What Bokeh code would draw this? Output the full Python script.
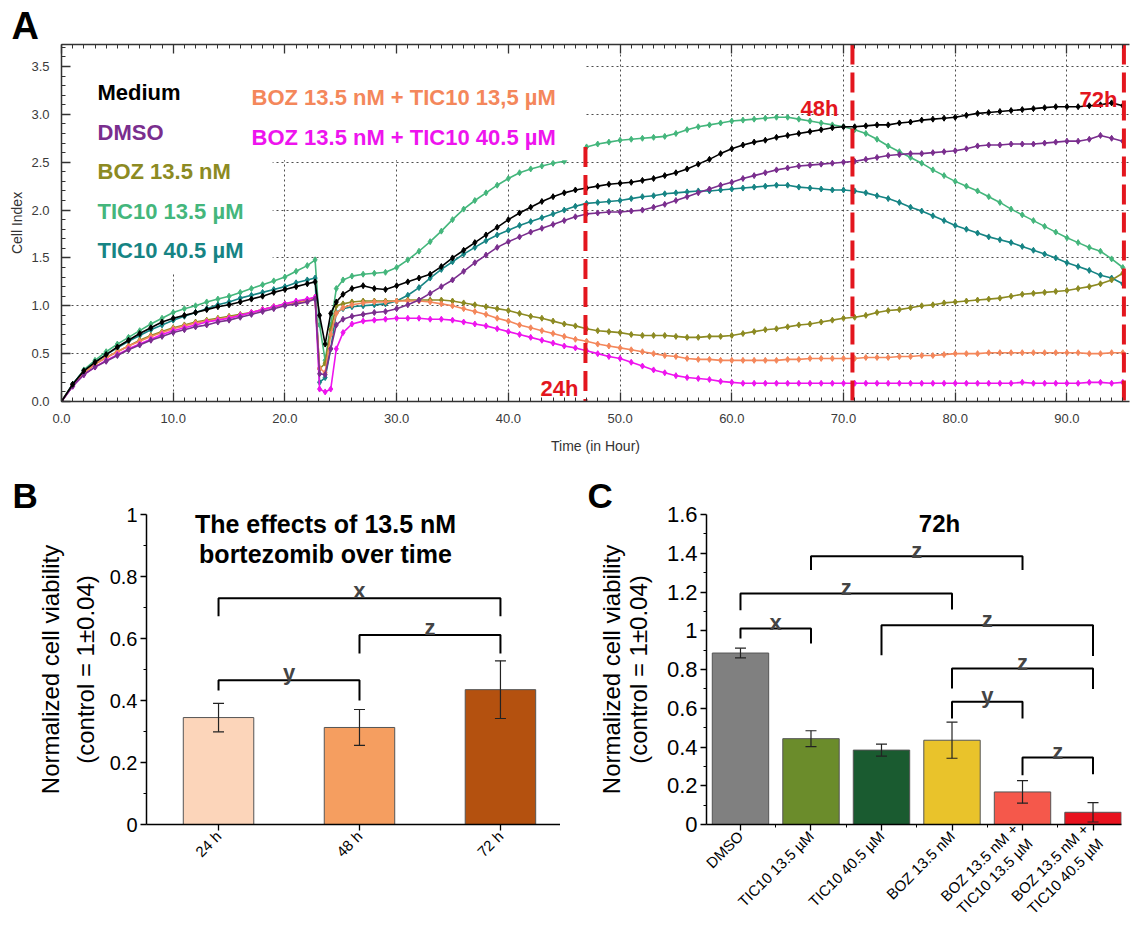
import math
from bokeh.plotting import figure
from bokeh.layouts import column, row
from bokeh.models import (Range1d, LinearAxis, SingleIntervalTicker, FixedTicker,
                          PrintfTickFormatter, Label, Whisker, TeeHead, ColumnDataSource)
from bokeh.embed import file_html
from bokeh.resources import INLINE

FONT = "Liberation Sans"
RED = "#e3161e"

# ------------------------------------------------------------------ Panel A data
hours = [0, 1, 2, 3, 4, 5, 6, 7, 8, 9, 10, 11, 12, 13, 14, 15, 16, 17, 18, 19, 20, 21, 22,
         22.7, 23.1, 23.6, 24.1, 24.6, 25.2,
         26, 27, 28, 29, 30, 31, 32, 33, 34, 35, 36, 37, 38, 39, 40, 41, 42, 43, 44, 45, 46, 47,
         48, 49, 50, 51, 52, 53, 54, 55, 56, 57, 58, 59, 60,
         61, 62, 63, 64, 65, 66, 67, 68, 69, 70,
         71, 72, 73, 74, 75, 76, 77, 78, 79, 80,
         81, 82, 83, 84, 85, 86, 87, 88, 89, 90,
         91, 92, 93, 94, 95]

ci_medium = [0, 0.18, 0.32, 0.41, 0.49, 0.57, 0.64, 0.71, 0.77, 0.83, 0.87, 0.90, 0.93, 0.96, 0.99, 1.01, 1.04, 1.07, 1.10, 1.14, 1.17, 1.20, 1.23,
             1.25, 0.90, 0.60, 0.92, 1.04, 1.12,
             1.18, 1.21, 1.18, 1.17, 1.21, 1.25, 1.29, 1.33, 1.41, 1.50, 1.58, 1.66, 1.74, 1.82, 1.90, 1.97, 2.03, 2.09, 2.14, 2.18, 2.21, 2.23,
             2.25, 2.27, 2.28, 2.29, 2.31, 2.33, 2.36, 2.39, 2.43, 2.48, 2.53, 2.59, 2.64,
             2.68, 2.71, 2.73, 2.76, 2.78, 2.80, 2.82, 2.84, 2.86, 2.87,
             2.87, 2.88, 2.89, 2.89, 2.91, 2.92, 2.94, 2.95, 2.96, 2.97,
             2.99, 3.01, 3.02, 3.03, 3.04, 3.05, 3.06, 3.07, 3.08, 3.08,
             3.08, 3.09, 3.10, 3.12, 3.09]

ci_dmso = [0, 0.16, 0.28, 0.36, 0.42, 0.48, 0.54, 0.59, 0.64, 0.68, 0.72, 0.75, 0.78, 0.80, 0.83, 0.85, 0.88, 0.91, 0.94, 0.97, 1.00, 1.02, 1.04,
           1.07, 0.29, 0.28, 0.55, 0.80, 0.86,
           0.89, 0.91, 0.93, 0.94, 0.97, 1.01, 1.06, 1.13, 1.20, 1.27, 1.36, 1.45, 1.53, 1.61, 1.67, 1.72, 1.77, 1.81, 1.85, 1.89, 1.93, 1.96,
           1.97, 1.98, 1.98, 1.99, 2.00, 2.03, 2.06, 2.10, 2.14, 2.18, 2.22, 2.26, 2.29,
           2.33, 2.36, 2.39, 2.42, 2.44, 2.46, 2.47, 2.48, 2.49, 2.50,
           2.51, 2.53, 2.55, 2.57, 2.58, 2.59, 2.59, 2.60, 2.61, 2.62,
           2.64, 2.67, 2.68, 2.68, 2.69, 2.69, 2.69, 2.70, 2.71, 2.72,
           2.72, 2.74, 2.78, 2.75, 2.72]

ci_boz = [0, 0.17, 0.30, 0.39, 0.46, 0.52, 0.58, 0.64, 0.69, 0.73, 0.77, 0.80, 0.83, 0.85, 0.87, 0.89, 0.91, 0.93, 0.96, 0.99, 1.02, 1.04, 1.06,
          1.09, 0.34, 0.40, 0.75, 1.00, 1.02,
          1.04, 1.05, 1.05, 1.05, 1.05, 1.06, 1.06, 1.06, 1.06, 1.05, 1.03, 1.01, 0.99, 0.97, 0.95, 0.92, 0.89, 0.87, 0.84, 0.81, 0.79, 0.76,
          0.74, 0.73, 0.72, 0.70, 0.69, 0.69, 0.69, 0.68, 0.67, 0.67, 0.68, 0.68, 0.69,
          0.71, 0.73, 0.75, 0.76, 0.78, 0.80, 0.81, 0.83, 0.85, 0.87,
          0.88, 0.90, 0.93, 0.95, 0.96, 0.98, 1.00, 1.01, 1.03, 1.04,
          1.05, 1.06, 1.07, 1.08, 1.10, 1.12, 1.13, 1.14, 1.15, 1.16,
          1.18, 1.20, 1.23, 1.27, 1.34]

ci_tic135 = [0, 0.18, 0.33, 0.43, 0.52, 0.60, 0.67, 0.74, 0.81, 0.87, 0.93, 0.97, 1.00, 1.04, 1.07, 1.10, 1.14, 1.18, 1.22, 1.26, 1.30, 1.36, 1.42,
             1.48, 0.80, 0.43, 0.80, 1.18, 1.27,
             1.31, 1.33, 1.34, 1.35, 1.40, 1.48, 1.57, 1.67, 1.78, 1.90, 2.01, 2.10, 2.18, 2.26, 2.33, 2.39, 2.43, 2.46, 2.49, 2.51, 2.58, 2.66,
             2.69, 2.71, 2.73, 2.74, 2.75, 2.76, 2.77, 2.80, 2.84, 2.87, 2.89, 2.91, 2.93,
             2.94, 2.95, 2.96, 2.97, 2.97, 2.95, 2.93, 2.91, 2.89, 2.87,
             2.84, 2.80, 2.74, 2.67, 2.61, 2.55, 2.49, 2.42, 2.36, 2.30,
             2.25, 2.20, 2.14, 2.08, 2.01, 1.95, 1.89, 1.83, 1.77, 1.71,
             1.66, 1.61, 1.57, 1.49, 1.40]

ci_tic405 = [0, 0.18, 0.32, 0.41, 0.49, 0.56, 0.63, 0.69, 0.75, 0.80, 0.85, 0.89, 0.93, 0.97, 1.01, 1.04, 1.08, 1.11, 1.14, 1.17, 1.20, 1.24, 1.27,
             1.29, 0.20, 0.25, 0.55, 0.93, 0.97,
             0.99, 1.00, 1.01, 1.02, 1.05, 1.11, 1.19, 1.29, 1.38, 1.46, 1.54, 1.61, 1.68, 1.74, 1.79, 1.84, 1.88, 1.92, 1.96, 2.00, 2.04, 2.07,
             2.08, 2.09, 2.10, 2.12, 2.14, 2.15, 2.17, 2.18, 2.19, 2.20, 2.20, 2.21, 2.22,
             2.23, 2.24, 2.25, 2.26, 2.26, 2.24, 2.23, 2.22, 2.21, 2.21,
             2.20, 2.18, 2.15, 2.12, 2.08, 2.03, 1.99, 1.94, 1.89, 1.84,
             1.80, 1.76, 1.72, 1.69, 1.66, 1.62, 1.58, 1.54, 1.50, 1.45,
             1.41, 1.37, 1.32, 1.29, 1.23]

ci_boz_tic135 = [0, 0.17, 0.30, 0.39, 0.46, 0.52, 0.58, 0.63, 0.68, 0.72, 0.76, 0.79, 0.82, 0.84, 0.86, 0.88, 0.90, 0.93, 0.96, 0.99, 1.01, 1.03, 1.05,
                 1.08, 0.35, 0.30, 0.70, 0.92, 0.98,
                 1.01, 1.03, 1.04, 1.04, 1.05, 1.05, 1.05, 1.04, 1.02, 1.00, 0.97, 0.94, 0.91, 0.87, 0.84, 0.80, 0.77, 0.74, 0.71, 0.68, 0.65, 0.63,
                 0.60, 0.58, 0.56, 0.54, 0.52, 0.50, 0.48, 0.47, 0.45, 0.44, 0.44, 0.43, 0.43,
                 0.43, 0.43, 0.43, 0.43, 0.44, 0.44, 0.45, 0.45, 0.45, 0.45,
                 0.45, 0.46, 0.46, 0.46, 0.47, 0.47, 0.48, 0.48, 0.49, 0.50,
                 0.50, 0.50, 0.51, 0.51, 0.51, 0.51, 0.51, 0.51, 0.51, 0.51,
                 0.51, 0.50, 0.50, 0.51, 0.51]

ci_boz_tic405 = [0, 0.16, 0.28, 0.36, 0.43, 0.49, 0.55, 0.60, 0.65, 0.70, 0.74, 0.77, 0.80, 0.83, 0.85, 0.87, 0.90, 0.93, 0.96, 0.99, 1.02, 1.05, 1.07,
                 1.09, 0.13, 0.10, 0.13, 0.55, 0.72,
                 0.81, 0.84, 0.85, 0.86, 0.87, 0.87, 0.87, 0.86, 0.86, 0.85, 0.83, 0.81, 0.79, 0.76, 0.73, 0.70, 0.67, 0.64, 0.61, 0.58, 0.56, 0.53,
                 0.50, 0.47, 0.45, 0.41, 0.37, 0.33, 0.30, 0.27, 0.25, 0.24, 0.23, 0.21, 0.20,
                 0.19, 0.19, 0.19, 0.19, 0.19, 0.19, 0.19, 0.19, 0.19, 0.19,
                 0.19, 0.19, 0.19, 0.19, 0.19, 0.19, 0.19, 0.19, 0.19, 0.19,
                 0.19, 0.19, 0.19, 0.19, 0.19, 0.20, 0.19, 0.19, 0.19, 0.19,
                 0.19, 0.20, 0.20, 0.19, 0.20]

series_names = ["Medium", "DMSO", "BOZ 13.5 nM", "TIC10 13.5 µM", "TIC10 40.5 µM",
                "BOZ 13.5 nM + TIC10 13,5 µM", "BOZ 13.5 nM + TIC10 40.5 µM"]
series_values = [ci_medium, ci_dmso, ci_boz, ci_tic135, ci_tic405, ci_boz_tic135, ci_boz_tic405]
series_colors = ["#000000", "#7a2e8e", "#8c8a22", "#44b67c", "#168484", "#f4875b", "#ee14ee"]
draw_order = [3, 4, 2, 5, 6, 1, 0]

mark_hours = [46.9, 70.8, 95.1]
mark_labels = ["24h", "48h", "72h"]
mark_tops = [2.66, 3.73, 3.73]

# ------------------------------------------------------------------ Panel B data
b_times = ["24 h", "48 h", "72 h"]
b_viability = [0.345, 0.313, 0.435]
b_error = [0.046, 0.058, 0.093]
b_colors = ["#fcd5ba", "#f59e60", "#b4510f"]
b_brackets = [("x", 0, 2, 0.730, 0.672, 0.672),
              ("z", 1, 2, 0.611, 0.552, 0.552),
              ("y", 0, 1, 0.465, 0.432, 0.400)]

# ------------------------------------------------------------------ Panel C data
c_groups = ["DMSO", "TIC10 13.5 µM", "TIC10 40.5 µM", "BOZ 13.5 nM",
            "BOZ 13.5 nM +\nTIC10 13.5 µM", "BOZ 13.5 nM +\nTIC10 40.5 µM"]
c_viability = [0.885, 0.443, 0.384, 0.435, 0.168, 0.063]
c_error = [0.025, 0.041, 0.031, 0.093, 0.058, 0.050]
c_colors = ["#808080", "#6b8c2b", "#1a5b30", "#e9c32b", "#f5584b", "#e8121e"]
c_brackets = [("x", 0, 1, 1.012, 0.960, 0.934),
              ("z", 0, 3, 1.192, 1.106, 1.110),
              ("z", 1, 4, 1.385, 1.313, 1.313),
              ("z", 2, 5, 1.029, 0.874, 0.870),
              ("z", 3, 5, 0.805, 0.702, 0.700),
              ("y", 3, 4, 0.633, 0.547, 0.547),
              ("z", 4, 5, 0.346, 0.254, 0.260)]

bc_y_ticks = [0, 0.2, 0.4, 0.6, 0.8, 1.0, 1.2, 1.4, 1.6]
bc_y_minor = [0.1, 0.3, 0.5, 0.7, 0.9, 1.1, 1.3, 1.5]
y_title = "Normalized cell viability\n(control = 1±0.04)"

for v in series_values:
    assert len(v) == len(hours)

# ------------------------------------------------------------------ geometry (page px)
A_GEO = dict(left=61, top=44, w=1068, h=357, x=(0, 95.6), y=(0, 3.73), origin=(0, 0))
B_GEO = dict(left=146, top=514, w=414, h=310, x=(0.489, 3.426), y=(0, 1.0), origin=(0, 468))
C_GEO = dict(left=706, top=514, w=415, h=310, x=(0.518, 6.404), y=(0, 1.6), origin=(560, 468))


def px2data(g, px, py):
    x0, x1 = g["x"]
    y0, y1 = g["y"]
    return (x0 + (px - g["left"]) * (x1 - x0) / g["w"],
            y1 - (py - g["top"]) * (y1 - y0) / g["h"])


def make_fig(g, right_border, bottom_border):
    ox, oy = g["origin"]
    p = figure(frame_width=g["w"], frame_height=g["h"],
               x_range=Range1d(*g["x"]), y_range=Range1d(*g["y"]),
               min_border_left=g["left"] - ox, min_border_top=g["top"] - oy,
               min_border_right=right_border, min_border_bottom=bottom_border,
               output_backend="svg", toolbar_location=None)
    p.outline_line_color = None
    p.background_fill_color = "white"
    p.border_fill_color = "white"
    return p


def add_text(p, g, px, py, text, size, color="black", bold=False, align="left",
             baseline="alphabetic", angle=0.0):
    x, y = px2data(g, px, py)
    p.add_layout(Label(x=x, y=y, text=text, text_font=FONT, text_font_size=f"{size}px",
                       text_color=color, text_font_style="bold" if bold else "normal",
                       text_align=align, text_baseline=baseline, angle=angle))


def set_letter(p, g, letter, left_px, size, standoff=0):
    p.title.text = letter
    p.title.text_font = FONT
    p.title.text_font_size = f"{size}px"
    p.title.text_font_style = "bold"
    p.title.text_color = "black"
    p.title.align = "left"
    p.title.offset = left_px - g["left"]
    p.title.standoff = standoff


# ------------------------------------------------------------------ Panel A
pA = make_fig(A_GEO, 2, 67)
xt = SingleIntervalTicker(interval=10, num_minor_ticks=10)
yt = SingleIntervalTicker(interval=0.5, num_minor_ticks=5)
xa = pA.xaxis[0]
ya = pA.yaxis[0]
xa.ticker = xt
ya.ticker = yt
pA.xgrid[0].ticker = xt
pA.ygrid[0].ticker = yt
top_axis = LinearAxis(ticker=xt)
pA.add_layout(top_axis, "above")
for ax in (xa, ya, top_axis):
    ax.formatter = PrintfTickFormatter(format="%.1f")
    ax.major_tick_in = 9
    ax.major_tick_out = 0
    ax.minor_tick_in = 4
    ax.minor_tick_out = 0
    ax.axis_line_color = "#333333"
    ax.axis_line_width = 1.5
    ax.major_tick_line_color = "#333333"
    ax.minor_tick_line_color = "#333333"
    ax.major_tick_line_width = 1.3
    ax.minor_tick_line_width = 1
    ax.major_label_text_font = FONT
    ax.major_label_text_font_size = "13px"
    ax.major_label_text_color = "#3a3a3a"
    ax.major_label_standoff = 12
    ax.axis_label_text_font = FONT
    ax.axis_label_text_font_size = "14px"
    ax.axis_label_text_font_style = "normal"
    ax.axis_label_text_color = "#333333"
# the top axis only carries the ruler ticks of the frame
top_axis.major_label_text_font_size = "0px"
top_axis.major_label_text_color = None
top_axis.major_label_text_alpha = 0
top_axis.major_label_standoff = 0
xa.axis_label = "Time (in Hour)"
xa.axis_label_standoff = 12
ya.axis_label = "Cell Index"
ya.axis_label_standoff = 3

pA.grid.grid_line_color = "#4d4d4d"
pA.grid.grid_line_dash = "2 3"
pA.grid.grid_line_width = 1

for i in draw_order:
    pA.line(hours, series_values[i], line_color=series_colors[i], line_width=1.6)
    pA.scatter(hours, series_values[i], marker="diamond", size=6,
               fill_color=series_colors[i], line_color=series_colors[i])

# white panels behind the legend text (hide grid and curves as in the original)
pA.quad(left=[0, 0], right=[18.9, 46.8], bottom=[1.35, 2.52], top=[3.73, 3.73],
        fill_color="white", line_color=None)

pA.segment(x0=mark_hours, y0=mark_tops, x1=mark_hours, y1=[0] * len(mark_hours),
           line_color=RED, line_width=4, line_dash="20 8")

for k in range(5):
    add_text(pA, A_GEO, 97, 92 + 39.5 * k, series_names[k], 22, series_colors[k], bold=True)
for k in range(5, 7):
    add_text(pA, A_GEO, 251, 97 + 40 * (k - 5), series_names[k], 22, series_colors[k], bold=True)

for lab, (px, py) in zip(mark_labels, [(578, 388), (838, 108), (1117, 99)]):
    add_text(pA, A_GEO, px, py, lab, 22, RED, bold=True, align="right")

set_letter(pA, A_GEO, "A", 11, 38, standoff=-4)


# ------------------------------------------------------------------ bar panels
def bar_panel(g, right_border, bottom_border, cats, vals, errs, colors, width, brackets,
              label_gap, tick_font, ylabel_standoff, ylabel_line_height, y_top):
    p = make_fig(g, right_border, bottom_border)
    p.grid.visible = False
    xs = [i + 1 for i in range(len(cats))]
    p.vbar(x=xs, top=vals, width=width, fill_color=colors, line_color="#555555", line_width=1)
    src = ColumnDataSource(dict(x=xs, lo=[v - e for v, e in zip(vals, errs)],
                                hi=[v + e for v, e in zip(vals, errs)]))
    p.add_layout(Whisker(source=src, base="x", lower="lo", upper="hi",
                         line_color="#222222", line_width=1.2, level="overlay",
                         upper_head=TeeHead(size=11, line_color="#222222", line_width=1.2),
                         lower_head=TeeHead(size=11, line_color="#222222", line_width=1.2)))
    bxs, bys = [], []
    for lab, i, j, h, dl, dr in brackets:
        bxs.append([xs[i], xs[i], xs[j], xs[j]])
        bys.append([dl, h, h, dr])
    p.multi_line(bxs, bys, line_color="black", line_width=2)
    yscale = g["h"] / (g["y"][1] - g["y"][0])
    for (lab, i, j, h, dl, dr), bx in zip(brackets, bxs):
        p.add_layout(Label(x=(bx[0] + bx[-1]) / 2, y=h + label_gap / yscale, text=lab,
                           text_font=FONT, text_font_size="22px", text_font_style="bold",
                           text_align="center", text_baseline="alphabetic"))

    xa_ = p.xaxis[0]
    minor = [x + 0.5 for x in xs[:-1]] if len(xs) > 3 else []
    xa_.ticker = FixedTicker(ticks=xs, minor_ticks=minor)
    xa_.major_label_overrides = {x: c for x, c in zip(xs, cats)}
    xa_.major_label_orientation = math.pi / 4
    ya_ = p.yaxis[0]
    ticks = [t for t in bc_y_ticks if t <= y_top + 1e-9]
    ya_.ticker = FixedTicker(ticks=ticks, minor_ticks=[t for t in bc_y_minor if t < y_top])
    ya_.formatter = PrintfTickFormatter(format="%g")
    for ax in (xa_, ya_):
        ax.axis_line_color = "black"
        ax.axis_line_width = 1.5
        ax.major_tick_line_color = "black"
        ax.minor_tick_line_color = "black"
        ax.major_tick_line_width = 1.3
        ax.major_tick_in = 0
        ax.major_tick_out = 6
        ax.minor_tick_in = 0
        ax.minor_tick_out = 3
        ax.major_label_text_font = FONT
        ax.major_label_text_color = "black"
    xa_.major_label_text_font_size = "15px"
    xa_.major_label_standoff = 3
    ya_.major_label_text_font_size = tick_font
    ya_.major_label_standoff = 3
    ya_.axis_label = y_title
    ya_.axis_label_text_font = FONT
    ya_.axis_label_text_font_size = "24px"
    ya_.axis_label_text_font_style = "normal"
    ya_.axis_label_text_color = "black"
    ya_.axis_label_text_line_height = ylabel_line_height
    ya_.axis_label_standoff = ylabel_standoff
    return p


pB = bar_panel(B_GEO, 0, 108, b_times, b_viability, b_error, b_colors, 0.5, b_brackets, 8,
               "20px", 8, 1.3, 1.0)
add_text(pB, B_GEO, 325, 523, "The effects of 13.5 nM", 25, bold=True, align="center")
add_text(pB, B_GEO, 325, 553, "bortezomib over time", 25, bold=True, align="center")
set_letter(pB, B_GEO, "B", 12, 35)

pC = bar_panel(C_GEO, 10, 108, c_groups, c_viability, c_error, c_colors, 0.8, c_brackets, 6,
               "22px", 12, 1.0, 1.6)
add_text(pC, C_GEO, 939, 523, "72h", 24, bold=True, align="center")
set_letter(pC, C_GEO, "C", 587, 35)

layout = column(pA, row(pB, pC))
open("out.html", "w").write(file_html(layout, INLINE, title="Cell index and viability"))
